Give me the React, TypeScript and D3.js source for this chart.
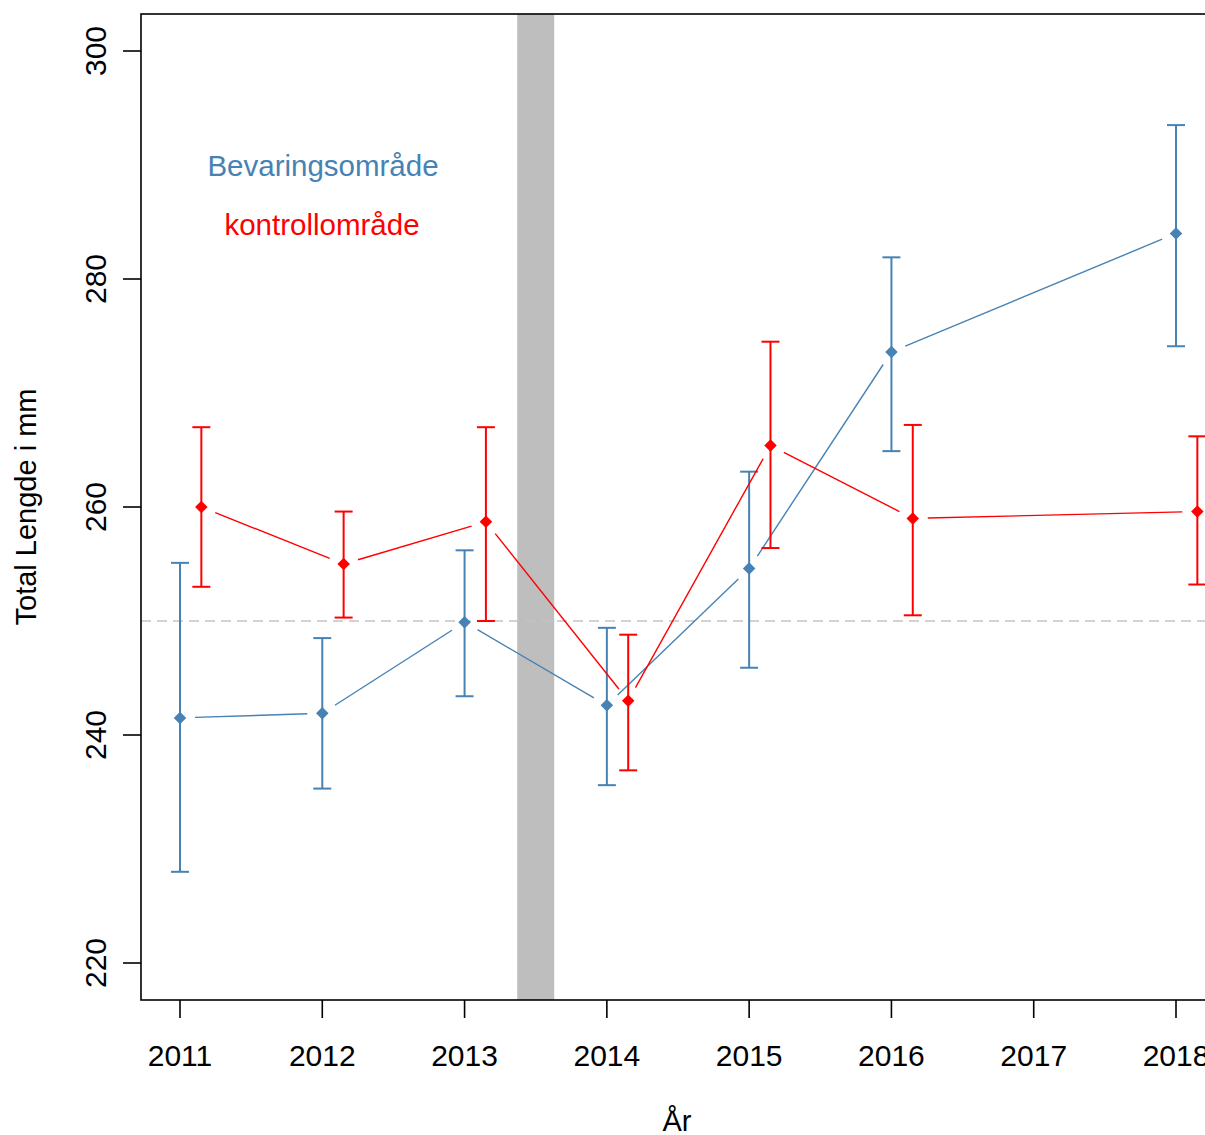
import React from 'react';
import * as d3 from 'd3';

// Data
const years = [2011, 2012, 2013, 2014, 2015, 2016, 2018];
const blueMean = [241.5, 241.9, 249.9, 242.6, 254.6, 273.6, 284.0];
const blueUpper = [255.1, 248.5, 256.2, 249.4, 263.1, 281.9, 293.5];
const blueLower = [228.0, 235.3, 243.4, 235.6, 245.9, 264.9, 274.1];
const redMean = [260.0, 255.0, 258.7, 243.0, 265.4, 259.0, 259.6];
const redUpper = [267.0, 259.6, 267.0, 248.8, 274.5, 267.2, 266.2];
const redLower = [253.0, 250.3, 250.0, 236.9, 256.4, 250.5, 253.2];
const xTicks = [2011, 2012, 2013, 2014, 2015, 2016, 2017, 2018];
const yTicks = [220, 240, 260, 280, 300];
const redOffset = 0.15;
const bandYears = [2013.37, 2013.63];
const refLine = 250;

const W = 1205;
const H = 1135;
const FONT = '"Liberation Sans", Arial, sans-serif';
const BLUE = '#4682b4';
const RED = '#ff0000';

const x = d3.scaleLinear().domain([2011, 2018]).range([180, 1176]);
const y = d3.scaleLinear().domain([220, 300]).range([963, 51]);

const plot = { left: 141, top: 14, bottom: 1000, right: 1230 };

type Pt = { px: number; py: number; lo: number; hi: number };

const buildSeries = (mean: number[], lo: number[], hi: number[], off: number): Pt[] =>
  years.map((yr, i) => ({ px: x(yr + off), py: y(mean[i]), lo: y(lo[i]), hi: y(hi[i]) }));

// R type="b": segments between points with a gap near each point
const gapSegments = (pts: Pt[], gap: number) => {
  const segs: [number, number, number, number][] = [];
  for (let i = 0; i < pts.length - 1; i++) {
    const a = pts[i];
    const b = pts[i + 1];
    const dx = b.px - a.px;
    const dy = b.py - a.py;
    const len = Math.hypot(dx, dy);
    if (len <= 2 * gap) continue;
    const ux = dx / len;
    const uy = dy / len;
    segs.push([a.px + ux * gap, a.py + uy * gap, b.px - ux * gap, b.py - uy * gap]);
  }
  return segs;
};

const Series: React.FC<{ pts: Pt[]; color: string }> = ({ pts, color }) => {
  const segs = gapSegments(pts, 15);
  const diamond = d3.symbol().type(d3.symbolDiamond2).size(100)();
  return (
    <g>
      {segs.map((s, i) => (
        <line key={'s' + i} x1={s[0]} y1={s[1]} x2={s[2]} y2={s[3]} stroke={color} strokeWidth={1.4} />
      ))}
      {pts.map((p, i) => (
        <g key={'e' + i} stroke={color} strokeWidth={2}>
          <line x1={p.px} x2={p.px} y1={p.lo} y2={p.hi} />
          <line x1={p.px - 9} x2={p.px + 9} y1={p.lo} y2={p.lo} />
          <line x1={p.px - 9} x2={p.px + 9} y1={p.hi} y2={p.hi} />
        </g>
      ))}
      {pts.map((p, i) => (
        <path key={'p' + i} d={diamond || ''} transform={`translate(${p.px},${p.py})`} fill={color} />
      ))}
    </g>
  );
};

const App: React.FC = () => {
  const blue = buildSeries(blueMean, blueLower, blueUpper, 0);
  const red = buildSeries(redMean, redLower, redUpper, redOffset);

  return (
    <div style={{ position: 'fixed', left: 0, top: 0, width: W, height: H, background: '#fff' }}>
      <svg width={W} height={H} style={{ display: 'block' }} fontFamily={FONT}>
        <rect x={0} y={0} width={W} height={H} fill="#fff" />
        {/* grey band */}
        <rect
          x={x(bandYears[0])}
          y={plot.top}
          width={x(bandYears[1]) - x(bandYears[0])}
          height={plot.bottom - plot.top}
          fill="#bebebe"
        />
        {/* reference line */}
        <line
          x1={plot.left}
          x2={W}
          y1={y(refLine)}
          y2={y(refLine)}
          stroke="#c4c4c4"
          strokeWidth={1.5}
          strokeDasharray="10 6"
        />
        <Series pts={blue} color={BLUE} />
        <Series pts={red} color={RED} />
        {/* box */}
        <rect
          x={plot.left}
          y={plot.top}
          width={plot.right - plot.left}
          height={plot.bottom - plot.top}
          fill="none"
          stroke="#000"
          strokeWidth={1.6}
        />
        {/* x axis */}
        {xTicks.map((t) => (
          <g key={'xt' + t}>
            <line x1={x(t)} x2={x(t)} y1={plot.bottom} y2={plot.bottom + 18} stroke="#000" strokeWidth={1.6} />
            <text x={x(t)} y={1066} textAnchor="middle" fontSize={30} fill="#000">
              {t}
            </text>
          </g>
        ))}
        {/* y axis */}
        {yTicks.map((t) => (
          <g key={'yt' + t}>
            <line x1={plot.left - 18} x2={plot.left} y1={y(t)} y2={y(t)} stroke="#000" strokeWidth={1.6} />
            <text
              transform={`translate(106,${y(t)}) rotate(-90)`}
              textAnchor="middle"
              fontSize={30}
              fill="#000"
            >
              {t}
            </text>
          </g>
        ))}
        <text transform="translate(36,507) rotate(-90)" textAnchor="middle" fontSize={29} fill="#000">
          Total Lengde i mm
        </text>
        <text x={677} y={1131} textAnchor="middle" fontSize={29} fill="#000">
          År
        </text>
        {/* labels */}
        <text x={323} y={176} textAnchor="middle" fontSize={29.5} fill={BLUE}>
          Bevaringsområde
        </text>
        <text x={322} y={235} textAnchor="middle" fontSize={29.5} fill={RED}>
          kontrollområde
        </text>
      </svg>
    </div>
  );
};

export default App;
